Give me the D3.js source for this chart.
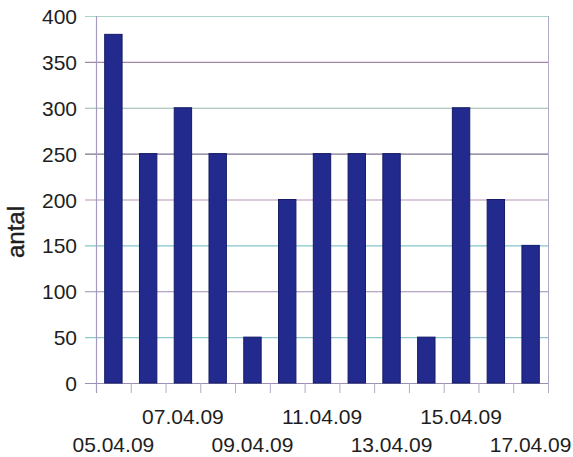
<!DOCTYPE html>
<html>
<head>
<meta charset="utf-8">
<script src="https://cdn.jsdelivr.net/npm/d3@7/dist/d3.min.js"></script>
<style>
  html, body { margin: 0; padding: 0; background: #fff; }
  svg { display: block; }
  text { font-family: Arial, "Liberation Sans", sans-serif; fill: #1e1e1e; }
</style>
</head>
<body>
<svg id="chart" width="573" height="457"></svg>
<script>
const categories = ["05.04.09","06.04.09","07.04.09","08.04.09","09.04.09","10.04.09","11.04.09","12.04.09","13.04.09","14.04.09","15.04.09","16.04.09","17.04.09"];
const values = [380, 250, 300, 250, 50, 200, 250, 250, 250, 50, 300, 200, 150];
const yTicks = [0, 50, 100, 150, 200, 250, 300, 350, 400];
const shownLabels = ["05.04.09","07.04.09","09.04.09","11.04.09","13.04.09","15.04.09","17.04.09"];
const yTitle = "antal";

const gridColors = {0:"#9a8fb4",50:"#8ec8cc",100:"#9c8cb0",150:"#86c4cc",200:"#b792b4",250:"#7f7592",300:"#98b8a8",350:"#a585a8",400:"#a8d4cc"};

const svg = d3.select("#chart");
const mLeft = 96, mRight = 548, mTop = 16, mBottom = 383;

const x = d3.scaleBand().domain(categories).range([mLeft, mRight]).paddingInner(0.5).paddingOuter(0.25);
const y = d3.scaleLinear().domain([0, 400]).range([mBottom, mTop]);

// gridlines (extending left as tick marks)
svg.append("g").selectAll("line").data(yTicks).join("line")
  .attr("x1", mLeft - 11).attr("x2", mRight)
  .attr("y1", d => y(d) + 0.5).attr("y2", d => y(d) + 0.5)
  .attr("stroke", d => gridColors[d]).attr("stroke-width", 1.2);

// plot borders
svg.append("line").attr("x1", mLeft + 0.5).attr("x2", mLeft + 0.5).attr("y1", mTop).attr("y2", mBottom + 10)
  .attr("stroke", "#a59ac0").attr("stroke-width", 1.2);
svg.append("line").attr("x1", mRight + 0.5).attr("x2", mRight + 0.5).attr("y1", mTop).attr("y2", mBottom + 10)
  .attr("stroke", "#b0a8c8").attr("stroke-width", 1);

// x tick marks at category boundaries
const step = x.step();
svg.append("g").selectAll("line").data(categories.slice(1)).join("line")
  .attr("x1", d => x(d) - step * 0.25 + 0.5).attr("x2", d => x(d) - step * 0.25 + 0.5)
  .attr("y1", mBottom).attr("y2", mBottom + 10)
  .attr("stroke", "#b0a8c8").attr("stroke-width", 1);

// bars
svg.append("g").selectAll("rect").data(values).join("rect")
  .attr("x", (d, i) => x(categories[i]))
  .attr("width", x.bandwidth())
  .attr("y", d => y(d))
  .attr("height", d => mBottom - y(d))
  .attr("fill", "#232a8e")
  .attr("stroke", "#141b66").attr("stroke-width", 1);

// y tick labels
svg.append("g").selectAll("text").data(yTicks).join("text")
  .attr("x", 77).attr("y", d => y(d) + 8)
  .attr("text-anchor", "end")
  .attr("font-size", 21)
  .text(d => d);

// x labels (alternating rows)
svg.append("g").selectAll("text").data(shownLabels).join("text")
  .attr("x", d => x(d) + x.bandwidth() / 2)
  .attr("y", (d, i) => i % 2 === 0 ? 452 : 424)
  .attr("text-anchor", "middle")
  .attr("font-size", 21)
  .text(d => d);

// y title
svg.append("text")
  .attr("transform", "translate(24,232) rotate(-90)")
  .attr("text-anchor", "middle")
  .attr("font-size", 24)
  .attr("stroke", "#1e1e1e").attr("stroke-width", 0.4)
  .text(yTitle);
</script>
</body>
</html>
